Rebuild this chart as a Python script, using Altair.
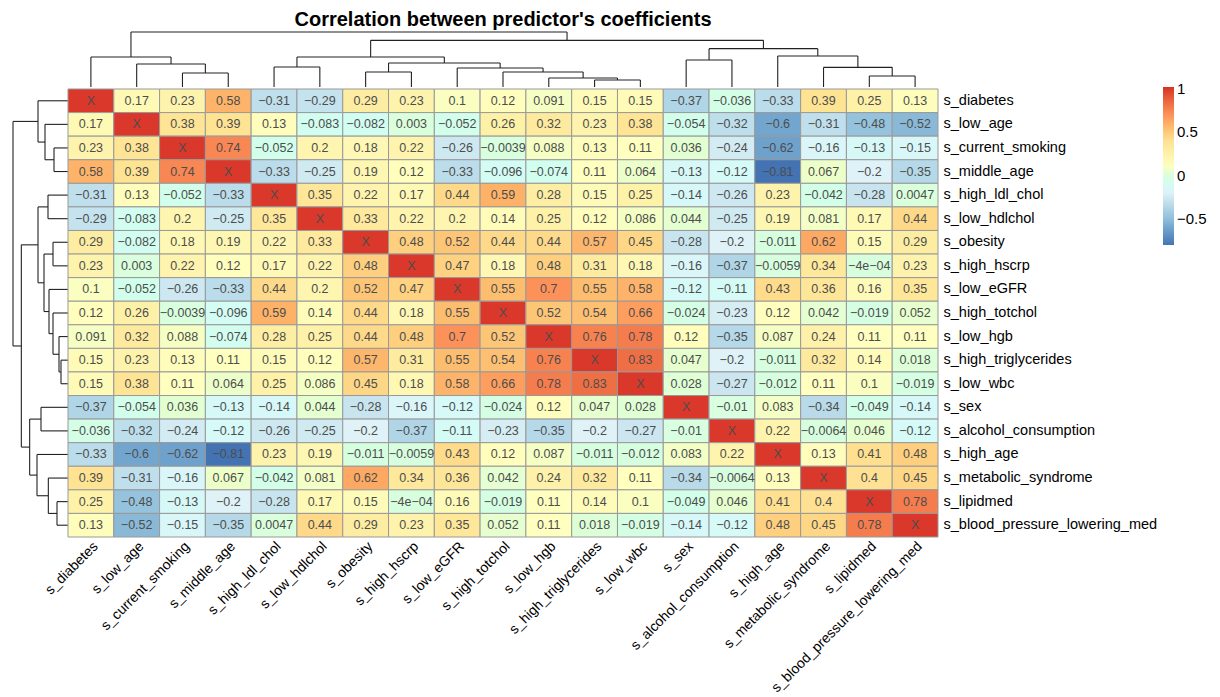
import altair as alt
import pandas as pd

labels = ["s_diabetes", "s_low_age", "s_current_smoking", "s_middle_age",
          "s_high_ldl_chol", "s_low_hdlchol", "s_obesity", "s_high_hscrp",
          "s_low_eGFR", "s_high_totchol", "s_low_hgb", "s_high_triglycerides",
          "s_low_wbc", "s_sex", "s_alcohol_consumption", "s_high_age",
          "s_metabolic_syndrome", "s_lipidmed", "s_blood_pressure_lowering_med"]

r_diabetes = [1, 0.17, 0.23, 0.58, -0.31, -0.29, 0.29, 0.23, 0.1, 0.12, 0.091, 0.15, 0.15, -0.37, -0.036, -0.33, 0.39, 0.25, 0.13]
r_low_age = [0.17, 1, 0.38, 0.39, 0.13, -0.083, -0.082, 0.003, -0.052, 0.26, 0.32, 0.23, 0.38, -0.054, -0.32, -0.6, -0.31, -0.48, -0.52]
r_current_smoking = [0.23, 0.38, 1, 0.74, -0.052, 0.2, 0.18, 0.22, -0.26, -0.0039, 0.088, 0.13, 0.11, 0.036, -0.24, -0.62, -0.16, -0.13, -0.15]
r_middle_age = [0.58, 0.39, 0.74, 1, -0.33, -0.25, 0.19, 0.12, -0.33, -0.096, -0.074, 0.11, 0.064, -0.13, -0.12, -0.81, 0.067, -0.2, -0.35]
r_high_ldl_chol = [-0.31, 0.13, -0.052, -0.33, 1, 0.35, 0.22, 0.17, 0.44, 0.59, 0.28, 0.15, 0.25, -0.14, -0.26, 0.23, -0.042, -0.28, 0.0047]
r_low_hdlchol = [-0.29, -0.083, 0.2, -0.25, 0.35, 1, 0.33, 0.22, 0.2, 0.14, 0.25, 0.12, 0.086, 0.044, -0.25, 0.19, 0.081, 0.17, 0.44]
r_obesity = [0.29, -0.082, 0.18, 0.19, 0.22, 0.33, 1, 0.48, 0.52, 0.44, 0.44, 0.57, 0.45, -0.28, -0.2, -0.011, 0.62, 0.15, 0.29]
r_high_hscrp = [0.23, 0.003, 0.22, 0.12, 0.17, 0.22, 0.48, 1, 0.47, 0.18, 0.48, 0.31, 0.18, -0.16, -0.37, -0.0059, 0.34, -0.0004, 0.23]
r_low_eGFR = [0.1, -0.052, -0.26, -0.33, 0.44, 0.2, 0.52, 0.47, 1, 0.55, 0.7, 0.55, 0.58, -0.12, -0.11, 0.43, 0.36, 0.16, 0.35]
r_high_totchol = [0.12, 0.26, -0.0039, -0.096, 0.59, 0.14, 0.44, 0.18, 0.55, 1, 0.52, 0.54, 0.66, -0.024, -0.23, 0.12, 0.042, -0.019, 0.052]
r_low_hgb = [0.091, 0.32, 0.088, -0.074, 0.28, 0.25, 0.44, 0.48, 0.7, 0.52, 1, 0.76, 0.78, 0.12, -0.35, 0.087, 0.24, 0.11, 0.11]
r_high_triglycerides = [0.15, 0.23, 0.13, 0.11, 0.15, 0.12, 0.57, 0.31, 0.55, 0.54, 0.76, 1, 0.83, 0.047, -0.2, -0.011, 0.32, 0.14, 0.018]
r_low_wbc = [0.15, 0.38, 0.11, 0.064, 0.25, 0.086, 0.45, 0.18, 0.58, 0.66, 0.78, 0.83, 1, 0.028, -0.27, -0.012, 0.11, 0.1, -0.019]
r_sex = [-0.37, -0.054, 0.036, -0.13, -0.14, 0.044, -0.28, -0.16, -0.12, -0.024, 0.12, 0.047, 0.028, 1, -0.01, 0.083, -0.34, -0.049, -0.14]
r_alcohol_consumption = [-0.036, -0.32, -0.24, -0.12, -0.26, -0.25, -0.2, -0.37, -0.11, -0.23, -0.35, -0.2, -0.27, -0.01, 1, 0.22, -0.0064, 0.046, -0.12]
r_high_age = [-0.33, -0.6, -0.62, -0.81, 0.23, 0.19, -0.011, -0.0059, 0.43, 0.12, 0.087, -0.011, -0.012, 0.083, 0.22, 1, 0.13, 0.41, 0.48]
r_metabolic_syndrome = [0.39, -0.31, -0.16, 0.067, -0.042, 0.081, 0.62, 0.34, 0.36, 0.042, 0.24, 0.32, 0.11, -0.34, -0.0064, 0.13, 1, 0.4, 0.45]
r_lipidmed = [0.25, -0.48, -0.13, -0.2, -0.28, 0.17, 0.15, -0.0004, 0.16, -0.019, 0.11, 0.14, 0.1, -0.049, 0.046, 0.41, 0.4, 1, 0.78]
r_bp_lowering_med = [0.13, -0.52, -0.15, -0.35, 0.0047, 0.44, 0.29, 0.23, 0.35, 0.052, 0.11, 0.018, -0.019, -0.14, -0.12, 0.48, 0.45, 0.78, 1]

rows = [r_diabetes, r_low_age, r_current_smoking, r_middle_age, r_high_ldl_chol,
        r_low_hdlchol, r_obesity, r_high_hscrp, r_low_eGFR, r_high_totchol,
        r_low_hgb, r_high_triglycerides, r_low_wbc, r_sex, r_alcohol_consumption,
        r_high_age, r_metabolic_syndrome, r_lipidmed, r_bp_lowering_med]

# hierarchical clustering merges: (left node, right node, height); new nodes get ids 19, 20, ...
merges = [(11, 12, 21), (10, 19, 27), (9, 20, 45), (8, 21, 57), (6, 7, 45),
          (23, 22, 72), (4, 5, 60), (25, 24, 90), (2, 3, 42), (1, 27, 69),
          (0, 28, 90), (17, 18, 33), (16, 30, 59), (15, 31, 93), (13, 14, 81),
          (33, 32, 115), (26, 34, 140), (29, 35, 165)]

color_stops = ["#4575B4", "#91BFDB", "#E0F3F8", "#FFFFBF", "#FEE090", "#FC8D59", "#D73027"]
vmin, vmax = -0.80, 1.02

FONT = "Liberation Sans"
n = len(labels)


def fmt(v):
    if abs(v) < 0.001:
        s = f"{v:.0e}"
    else:
        s = repr(v)
    return s.replace("-", "\u2212")


cells = []
for i, r in enumerate(labels):
    for j, c in enumerate(labels):
        v = rows[i][j]
        cells.append({"row": r, "col": c, "value": v,
                      "text": "X" if i == j else fmt(v)})
cells = pd.DataFrame(cells)

pos = {i: i + 0.5 for i in range(n)}
hgt = {i: 0 for i in range(n)}
segs = []
nid = n
for a, b, h in merges:
    xa, xb = pos[a], pos[b]
    segs.append({"p1": xa, "p2": xb, "h1": h, "h2": h})
    segs.append({"p1": xa, "p2": xa, "h1": hgt[a], "h2": h})
    segs.append({"p1": xb, "p2": xb, "h1": hgt[b], "h2": h})
    pos[nid] = (xa + xb) / 2
    hgt[nid] = h
    nid += 1
segs = pd.DataFrame(segs)

W, H = 870, 448
DW = 60          # row dendrogram width (px)
DH = 60          # column dendrogram height (px)
PX_PER_UNIT = 1 / 3.0
LINE = "#222222"

col_dendro = alt.Chart(segs).mark_rule(color=LINE, strokeWidth=1.1).encode(
    x=alt.X("p1:Q", scale=alt.Scale(domain=[0, n], nice=False, zero=False), axis=None),
    x2="p2:Q",
    y=alt.Y("h1:Q", scale=alt.Scale(domain=[0, DH / PX_PER_UNIT], nice=False), axis=None),
    y2="h2:Q",
).properties(
    width=W, height=DH,
    title=alt.TitleParams("Correlation between predictor's coefficients",
                          fontSize=20, fontWeight="bold", font=FONT,
                          anchor="middle", offset=0, dy=3, color="black"),
)

row_dendro = alt.Chart(segs).mark_rule(color=LINE, strokeWidth=1.1).encode(
    y=alt.Y("p1:Q", scale=alt.Scale(domain=[0, n], nice=False, zero=False, reverse=True), axis=None),
    y2="p2:Q",
    x=alt.X("h1:Q", scale=alt.Scale(domain=[0, DW / PX_PER_UNIT], nice=False, reverse=True), axis=None),
    x2="h2:Q",
).properties(width=DW, height=H)

blank = alt.Chart(pd.DataFrame({"a": [0]})).mark_point(opacity=0).encode(
    x=alt.X("a:Q", axis=None), y=alt.Y("a:Q", axis=None)
).properties(width=DW, height=DH)

base = alt.Chart(cells).encode(
    x=alt.X("col:N", sort=labels, title=None,
            scale=alt.Scale(paddingInner=0, paddingOuter=0),
            axis=alt.Axis(orient="bottom", labelAngle=-45, labelAlign="right",
                          labelBaseline="top", labelFontSize=14, labelFont=FONT,
                          labelColor="black", ticks=False, domain=False,
                          labelPadding=2, labelLimit=400)),
    y=alt.Y("row:N", sort=labels, title=None,
            scale=alt.Scale(paddingInner=0, paddingOuter=0),
            axis=alt.Axis(orient="right", labelFontSize=14.5, labelFont=FONT,
                          labelColor="black", ticks=False, domain=False,
                          labelPadding=5, labelLimit=400)),
)

stops = [vmin + k * (vmax - vmin) / (len(color_stops) - 1) for k in range(len(color_stops))]

rects = base.mark_rect(stroke="#999999", strokeWidth=1).encode(
    color=alt.Color("value:Q",
                    scale=alt.Scale(domain=stops, range=color_stops, type="linear"),
                    legend=alt.Legend(title=None, orient="none", legendX=1155, legendY=60,
                                      direction="vertical", gradientLength=158,
                                      gradientThickness=11, gradientStrokeWidth=0,
                                      values=[-0.5, 0, 0.5, 1], format=".1~f",
                                      labelFontSize=15, labelFont=FONT,
                                      labelColor="black", labelOffset=3))
)
texts = base.mark_text(fontSize=12.5, font=FONT, color="#4D4D4D", baseline="middle").encode(
    text="text:N")

heat = alt.layer(rects, texts).properties(width=W, height=H)

chart = alt.vconcat(
    alt.hconcat(blank, col_dendro, spacing=0),
    alt.hconcat(row_dendro, heat, spacing=0, bounds="flush"),
    spacing=0,
).properties(
    padding={"left": 0, "top": 2, "right": 5, "bottom": 0},
    background="white",
).configure_view(stroke=None, strokeWidth=0)

chart.save("out.html", embed_options={"renderer": "svg", "actions": False})
